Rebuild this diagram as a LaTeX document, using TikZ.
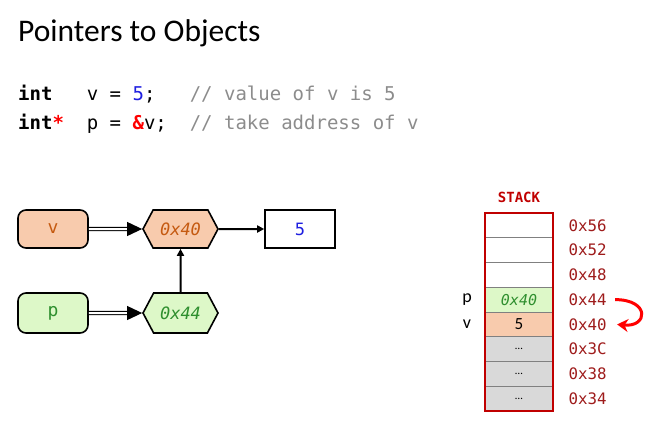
\documentclass[tikz,border=0pt]{standalone}
\usepackage{fontspec}
\setmainfont{Carlito}
\setmonofont{DejaVu Sans Mono}
\usepackage{tikz}
\usetikzlibrary{shapes.symbols, arrows.meta, positioning, calc}
\usepackage{xcolor}

\definecolor{varfill}{HTML}{F8CBAD}
\definecolor{vartext}{HTML}{C55A11}
\definecolor{ptrfill}{HTML}{DDF8C8}
\definecolor{ptrtext}{HTML}{2F8F2F}
\definecolor{numblue}{HTML}{1F1FE0}
\definecolor{cmtgray}{HTML}{8C8C8C}
\definecolor{stackred}{HTML}{C00000}
\definecolor{addrred}{HTML}{9E1B1B}
\definecolor{cellgray}{HTML}{D9D9D9}

\begin{document}
\begin{tikzpicture}[x=1pt, y=-1pt, >=Stealth,
    varbox/.style={draw, line width=1.6pt, rounded corners=8pt, minimum width=70pt, minimum height=38pt, font=\ttfamily\fontsize{18}{18}\selectfont},
    hexbox/.style={draw, line width=1.6pt, signal, signal to=west and east, signal pointer angle=124, minimum width=75pt, minimum height=38pt, inner xsep=2pt, font=\ttfamily\itshape\fontsize{17}{17}\selectfont},
    cell/.style={draw=gray, line width=0.8pt, minimum width=68pt, minimum height=24.75pt, inner sep=0pt},
    addr/.style={anchor=west, text=addrred, font=\ttfamily\fontsize{15.8}{15.8}\selectfont},
    dblarrow/.style={double, double distance=2pt, line width=1.1pt, -{Triangle[length=15pt, width=14pt]}},
    ptrarrow/.style={line width=2pt, -{Triangle[length=7pt, width=7pt]}}]

    \useasboundingbox (0,0) rectangle (650,440);

    % title and code
    \node (title) at (18,41) [anchor=base west, inner sep=0pt, font=\fontsize{31.5}{31.5}\selectfont] {Pointers to Objects};
    \node (line1) at (18,100) [anchor=base west, inner sep=0pt, font=\ttfamily\fontsize{19}{19}\selectfont]
        {\textbf{int}~~~v~=~\textcolor{numblue}{5};~~~\textcolor{cmtgray}{//~value~of~v~is~5}};
    \node (line2) at (18,129) [anchor=base west, inner sep=0pt, font=\ttfamily\fontsize{19}{19}\selectfont]
        {\textbf{int\textcolor{red}{*}}~~p~=~\textcolor{red}{\textbf{\&}}v;~~\textcolor{cmtgray}{//~take~address~of~v}};

    % object diagram
    \node (v) at (53,229) [varbox, fill=varfill, text=vartext] {v};
    \node (p) at (53,313) [varbox, fill=ptrfill, text=ptrtext, minimum height=40pt] {p};
    \node (h40) at (180.5,229) [hexbox, fill=varfill, text=vartext] {0x40};
    \node (h44) at (180.5,313) [hexbox, fill=ptrfill, text=ptrtext, minimum height=40pt] {0x44};
    \node (val) at (300,229) [draw, line width=1.6pt, minimum width=70pt, minimum height=38pt, text=numblue, font=\ttfamily\fontsize{17}{17}\selectfont] {5};

    \draw[dblarrow] (v) -- (h40);
    \draw[dblarrow] (p) -- (h44);
    \draw[ptrarrow] (h40) -- (val);
    \draw[ptrarrow] (h44) -- (h40);

    % stack
    \node (stack) at (519,197) [text=stackred, font=\ttfamily\bfseries\fontsize{14}{14}\selectfont] {STACK};
    \node (c1) at (519,225.4) [cell, fill=white] {};
    \node (c2) at (519,250.1) [cell, fill=white] {};
    \node (c3) at (519,274.9) [cell, fill=white] {};
    \node (c4) at (519,299.6) [cell, fill=ptrfill, text=ptrtext, font=\ttfamily\itshape\fontsize{15}{15}\selectfont] {0x40};
    \node (c5) at (519,324.4) [cell, fill=varfill, font=\fontsize{17}{17}\selectfont] {5};
    \node (c6) at (519,349.1) [cell, fill=cellgray, font=\fontsize{11}{11}\selectfont] {…};
    \node (c7) at (519,373.9) [cell, fill=cellgray, font=\fontsize{11}{11}\selectfont] {…};
    \node (c8) at (519,398.6) [cell, fill=cellgray, font=\fontsize{11}{11}\selectfont] {…};
    \draw[stackred, line width=2pt] (c1.north west) rectangle (c8.south east);

    \node (a56) at (565,225.4) [addr] {0x56};
    \node (a52) at (565,250.1) [addr] {0x52};
    \node (a48) at (565,274.9) [addr] {0x48};
    \node (a44) at (565,299.6) [addr] {0x44};
    \node (a40) at (565,324.4) [addr] {0x40};
    \node (a3c) at (565,349.1) [addr] {0x3C};
    \node (a38) at (565,373.9) [addr] {0x38};
    \node (a34) at (565,398.6) [addr] {0x34};

    \node (lp) at (467,299.6) [font=\fontsize{18}{18}\selectfont] {p};
    \node (lv) at (467,324.4) [font=\fontsize{18}{18}\selectfont] {v};

    \draw[red, line width=3pt, -{Stealth[length=11pt, width=13pt]}]
        ([xshift=5pt]a44.east) .. controls ([xshift=40pt]a44.east) and ([xshift=38pt, yshift=-3pt]a40.east) .. ([xshift=7pt]a40.east);
\end{tikzpicture}
\end{document}
